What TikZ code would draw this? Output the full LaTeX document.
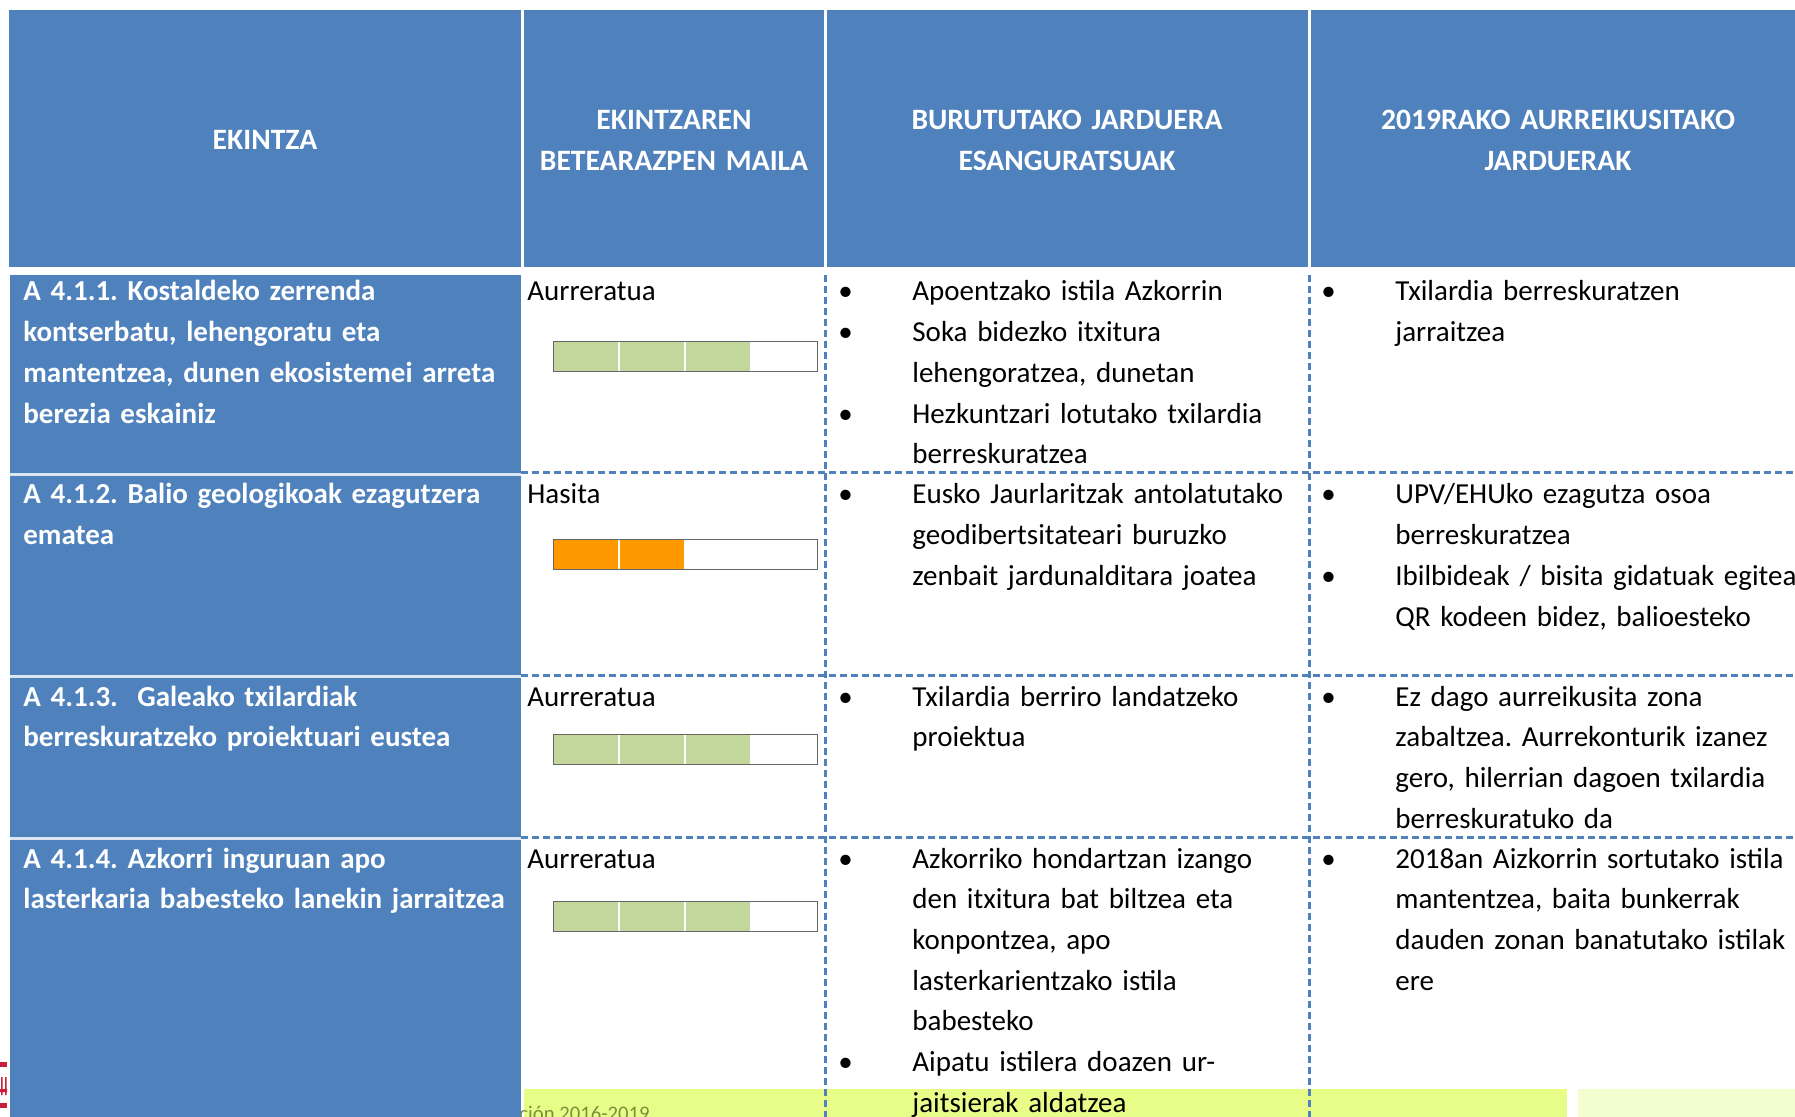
\documentclass[tikz,border=0pt]{standalone}
\usepackage{fontspec}
\setmainfont{Carlito}
\frenchspacing
\usetikzlibrary{positioning}

\definecolor{tblue}{HTML}{4F81BD}
\definecolor{tline}{HTML}{DCE6F2}
\definecolor{bargreen}{HTML}{C3D69B}
\definecolor{barorange}{HTML}{FF9900}
\definecolor{band}{HTML}{E8FC88}
\definecolor{paleband}{HTML}{F4FDD0}
\definecolor{olive}{HTML}{76923C}
\definecolor{logored}{HTML}{C8203C}

\begin{document}
\begin{tikzpicture}
    [
      x=0.5pt, y=-0.5pt,
      font=\fontsize{14.5pt}{20.35pt}\selectfont,
      grid line/.style={tblue, line width=1.5pt, dash pattern=on 3.5pt off 2pt},
      head/.style={text=white, font=\bfseries\fontsize{14.8pt}{20.35pt}\selectfont, align=center, anchor=base, inner sep=0pt},
      action/.style={text=white, font=\bfseries\fontsize{14.5pt}{20.35pt}\selectfont, align=left, text width=300pt, anchor=base west, inner sep=0pt},
      item/.style={align=left, text width=260pt, anchor=base west, inner sep=0pt},
      dot/.style={anchor=base west, inner sep=0pt}
    ]
    \useasboundingbox (0,0) rectangle (1795,1117);
    \clip (0,0) rectangle (1795,1117);

    % header
    \fill [tblue] (9,10) rectangle (1795,267);
    \draw [white, line width=1.5pt] (522.5,10) -- (522.5,267) (825.5,10) -- (825.5,267) (1309.5,10) -- (1309.5,267);
    \node (h1) [head, text width=250pt] at (265,150) {EKINTZA};
    \node (h2) [head, text width=150pt] at (674,130) {EKINTZAREN\\BETEARAZPEN MAILA};
    \node (h3) [head, text width=240pt] at (1067,130) {BURUTUTAKO JARDUERA\\ESANGURATSUAK};
    \node (h4) [head, text width=240pt] at (1558,130) {2019RAKO AURREIKUSITAKO\\JARDUERAK};

    % footer strip
    \fill [band] (524,1089) rectangle (1567,1117);
    \fill [paleband] (1578,1089) rectangle (1795,1117);
    \node (foot) [anchor=base west, inner sep=0pt, text=olive, font=\fontsize{10.35pt}{12pt}\selectfont] at (519,1120) {ción 2016-2019};

    % logo piece
    \fill [logored] (0,1062) rectangle (7,1067);
    \fill [logored] (1,1077) rectangle (2.5,1095) (5,1077) rectangle (6.5,1095) (0,1089) rectangle (7,1092);
    \fill [logored] (0,1103) rectangle (7,1108);

    % first column
    \fill [tblue] (10,275) rectangle (521,1117);
    \draw [tline, line width=1.5pt] (10,474.5) -- (521,474.5) (10,676.5) -- (521,676.5) (10,838) -- (521,838);

    % grid
    \draw [grid line] (521,473) -- (1795,473);
    \draw [grid line] (521,675) -- (1795,675);
    \draw [grid line] (521,837) -- (1795,837);
    \draw [grid line] (825,275) -- (825,1117);
    \draw [grid line] (1309,275) -- (1309,1117);

    % progress bars
    \foreach \y/\n/\c in {341/3/bargreen, 539/2/barorange, 734/3/bargreen, 901/3/bargreen}
    {
      \fill [\c] (553,\y) rectangle ({553+66*\n},\y+30);
      \foreach \k in {1,2,3}
        \draw [white, line width=0.6pt] ({553+66*\k},\y) -- ({553+66*\k},\y+30);
      \draw [black!60, line width=0.45pt] (553,\y) rectangle (817,\y+30);
    }

    % row 1
    \node (r1) [action] at (23,301) {A 4.1.1. Kostaldeko zerrenda\\kontserbatu, lehengoratu eta\\mantentzea, dunen ekosistemei arreta\\berezia eskainiz};
    \node (s1) [dot] at (527,301) {Aurreratua};
    \node (d11) [dot] at (838,301) {•};
    \node (a11) [item] at (912,301) {Apoentzako istila Azkorrin};
    \node (d12) [dot] at (838,341.7) {•};
    \node (a12) [item] at (912,341.7) {Soka bidezko itxitura\\lehengoratzea, dunetan};
    \node (d13) [dot] at (838,423.1) {•};
    \node (a13) [item] at (912,423.1) {Hezkuntzari lotutako txilardia\\berreskuratzea};
    \node (e11) [dot] at (1321,301) {•};
    \node (p11) [item] at (1395,301) {Txilardia berreskuratzen\\jarraitzea};

    % row 2
    \node (r2) [action] at (23,504) {A 4.1.2. Balio geologikoak ezagutzera\\ematea};
    \node (s2) [dot] at (527,504) {Hasita};
    \node (d21) [dot] at (838,504) {•};
    \node (a21) [item] at (912,504) {Eusko Jaurlaritzak antolatutako\\geodibertsitateari buruzko\\zenbait jardunalditara joatea};
    \node (e21) [dot] at (1321,504) {•};
    \node (p21) [item] at (1395,504) {UPV/EHUko ezagutza osoa\\berreskuratzea};
    \node (e22) [dot] at (1321,585.4) {•};
    \node (p22) [item] at (1395,585.4) {Ibilbideak / bisita gidatuak egitea\\QR kodeen bidez, balioesteko};

    % row 3
    \node (r3) [action] at (23,706) {A 4.1.3.\ \ Galeako txilardiak\\berreskuratzeko proiektuari eustea};
    \node (s3) [dot] at (527,706) {Aurreratua};
    \node (d31) [dot] at (838,706) {•};
    \node (a31) [item] at (912,706) {Txilardia berriro landatzeko\\proiektua};
    \node (e31) [dot] at (1321,706) {•};
    \node (p31) [item] at (1395,706) {Ez dago aurreikusita zona\\zabaltzea. Aurrekonturik izanez\\gero, hilerrian dagoen txilardia\\berreskuratuko da};

    % row 4
    \node (r4) [action] at (23,868) {A 4.1.4. Azkorri inguruan apo\\lasterkaria babesteko lanekin jarraitzea};
    \node (s4) [dot] at (527,868) {Aurreratua};
    \node (d41) [dot] at (838,868) {•};
    \node (a41) [item] at (912,868) {Azkorriko hondartzan izango\\den itxitura bat biltzea eta\\konpontzea, apo\\lasterkarientzako istila\\babesteko};
    \node (d42) [dot] at (838,1071.5) {•};
    \node (a42) [item] at (912,1071.5) {Aipatu istilera doazen ur-\\jaitsierak aldatzea};
    \node (e41) [dot] at (1321,868) {•};
    \node (p41) [item] at (1395,868) {2018an Aizkorrin sortutako istila\\mantentzea, baita bunkerrak\\dauden zonan banatutako istilak\\ere};
  \end{tikzpicture}
\end{document}
